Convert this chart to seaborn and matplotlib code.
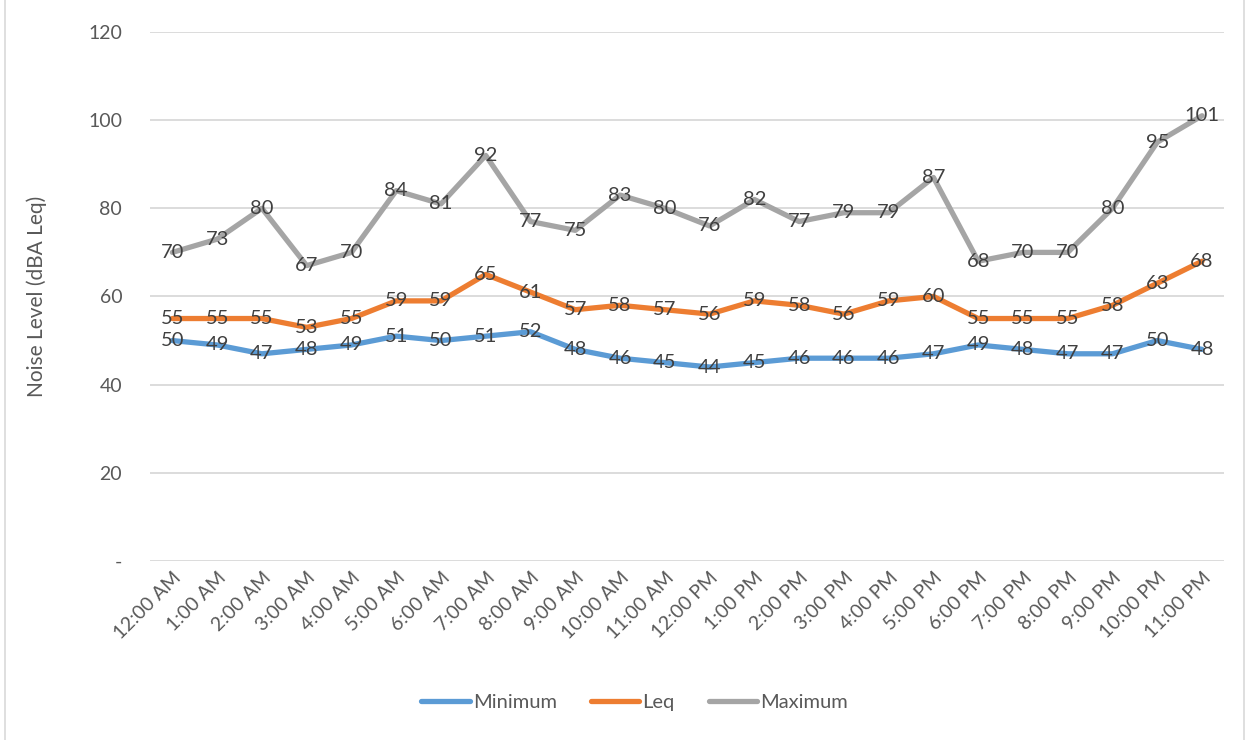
import matplotlib
matplotlib.use("Agg")
import matplotlib.pyplot as plt
import seaborn as sns
import pandas as pd
from matplotlib.patches import Rectangle
from matplotlib.lines import Line2D

hours = ["12:00 AM", "1:00 AM", "2:00 AM", "3:00 AM", "4:00 AM", "5:00 AM", "6:00 AM",
         "7:00 AM", "8:00 AM", "9:00 AM", "10:00 AM", "11:00 AM", "12:00 PM", "1:00 PM",
         "2:00 PM", "3:00 PM", "4:00 PM", "5:00 PM", "6:00 PM", "7:00 PM", "8:00 PM",
         "9:00 PM", "10:00 PM", "11:00 PM"]
minimum = [50, 49, 47, 48, 49, 51, 50, 51, 52, 48, 46, 45, 44, 45, 46, 46, 46, 47, 49, 48, 47, 47, 50, 48]
leq = [55, 55, 55, 53, 55, 59, 59, 65, 61, 57, 58, 57, 56, 59, 58, 56, 59, 60, 55, 55, 55, 58, 63, 68]
maximum = [70, 73, 80, 67, 70, 84, 81, 92, 77, 75, 83, 80, 76, 82, 77, 79, 79, 87, 68, 70, 70, 80, 95, 101]
series_names = ["Minimum", "Leq", "Maximum"]
y_ticks = [0, 20, 40, 60, 80, 100, 120]
y_tick_labels = ["-", "20", "40", "60", "80", "100", "120"]

colors = {"Minimum": "#5B9BD5", "Leq": "#ED7D31", "Maximum": "#A5A5A5"}

rows = []
for name, vals in zip(series_names, [minimum, leq, maximum]):
    for i, (h, v) in enumerate(zip(hours, vals)):
        rows.append({"idx": i, "hour": h, "value": v, "series": name})
df = pd.DataFrame(rows)

sns.set_theme(style="white")
plt.rcParams["font.family"] = ["Lato", "DejaVu Sans"]

fig = plt.figure(figsize=(12.52, 7.4), dpi=100)
ax = fig.add_axes([0.1198, 0.2419, 0.978 - 0.1198, 0.9568 - 0.2419])

sns.lineplot(data=df, x="idx", y="value", hue="series", hue_order=series_names,
             palette=colors, linewidth=3.8, ax=ax, legend=False, zorder=3)
for ln in ax.get_lines():
    ln.set_solid_joinstyle("round")
    ln.set_solid_capstyle("round")

text_color = "#404040"
for name in series_names:
    sub = df[df["series"] == name]
    for _, r in sub.iterrows():
        ax.text(r["idx"], r["value"], f"{r['value']:.0f}", ha="center", va="center",
                fontsize=14.5, color=text_color, zorder=5)

ax.set_xlim(-0.5, len(hours) - 0.5)
ax.set_ylim(0, 120)
ax.set_yticks(y_ticks)
ax.set_yticklabels(y_tick_labels, fontsize=14, color="#595959")
ax.set_xticks(range(len(hours)))
ax.set_xticklabels(hours, rotation=45, ha="right", rotation_mode="anchor",
                   fontsize=14, color="#595959")
ax.tick_params(axis="both", length=0)
ax.tick_params(axis="y", pad=20)
ax.tick_params(axis="x", pad=6)
ax.grid(axis="y", color="#D9D9D9", linewidth=1.3)
ax.set_axisbelow(True)
for s in ax.spines.values():
    s.set_visible(False)
ax.set_xlabel("")
ax.set_ylabel("Noise Level (dBA Leq)", fontsize=15, color="#595959", labelpad=30)

handles = [Line2D([0], [0], color=colors[n], linewidth=3.8, solid_capstyle="round") for n in series_names]
fig.legend(handles, series_names, loc="center", bbox_to_anchor=(0.507, 0.051), ncol=3,
           frameon=False, fontsize=14.5, labelcolor="#595959", handlelength=2.4,
           handletextpad=0.15, columnspacing=1.7)

fig.patches.append(Rectangle((0.004, -0.01), 0.99, 1.02, transform=fig.transFigure,
                             fill=False, edgecolor="#D9D9D9", linewidth=1.2))

fig.savefig("out.png", dpi=100, facecolor="white")
